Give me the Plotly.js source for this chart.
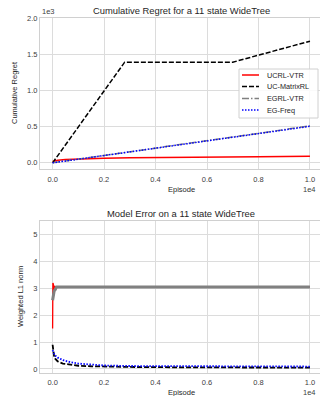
<!DOCTYPE html>
<html><head><meta charset="utf-8">
<script src="https://cdn.plot.ly/plotly-3.0.1.min.js"></script>
<style>html,body{margin:0;padding:0;background:#fff}#c{width:320px;height:396px}</style>
</head><body><div id="c"></div>
<script>
// ---- Data (episodes, values) ----
const seriesNames = ["UCRL-VTR", "UC-MatrixRL", "EGRL-VTR", "EG-Freq"];

// Cumulative regret
const regUcrlX = [0, 200, 500, 1000, 2000, 3000, 4000, 6000, 8000, 10000];
const regUcrlY = [20, 35, 45, 55, 65, 70, 75, 80, 85, 90];
const regUcX = [0, 2800, 7000, 10000];
const regUcY = [0, 1390, 1390, 1680];
const regEgrlX = [0, 2000, 4000, 6000, 8000, 10000];
const regEgrlY = [0, 100, 205, 305, 410, 510];
const regEgfX = [0, 2000, 4000, 6000, 8000, 10000];
const regEgfY = [0, 100, 200, 300, 405, 505];

// Model error
const errUcrlX = [0, 10, 20, 30, 40, 60, 80, 100, 150, 300, 1000, 3000, 6000, 10000];
const errUcrlY = [1.5, 3.2, 2.6, 3.15, 2.9, 3.1, 3.0, 3.05, 3.05, 3.05, 3.05, 3.05, 3.05, 3.05];
const errEgrlX = [0, 30, 60, 100, 150, 300, 1000, 3000, 6000, 10000];
const errEgrlY = [2.55, 2.7, 2.9, 2.95, 3.05, 3.05, 3.05, 3.05, 3.05, 3.05];
const errUcX = [0, 30, 60, 100, 200, 400, 700, 1000, 1500, 2000, 3000, 5000, 7000, 10000];
const errUcY = [0.9, 0.55, 0.45, 0.38, 0.28, 0.2, 0.15, 0.12, 0.1, 0.09, 0.075, 0.06, 0.055, 0.05];
const errEgfX = [0, 30, 60, 100, 200, 400, 700, 1000, 1500, 2000, 3000, 5000, 7000, 10000];
const errEgfY = [0.7, 0.6, 0.55, 0.5, 0.42, 0.33, 0.25, 0.2, 0.16, 0.13, 0.11, 0.1, 0.095, 0.09];

// Tick labels
const xTickVals = [0, 2000, 4000, 6000, 8000, 10000];
const xTickText = ["0.0", "0.2", "0.4", "0.6", "0.8", "1.0"];
const y1TickVals = [0, 500, 1000, 1500, 2000];
const y1TickText = ["0.0", "0.5", "1.0", "1.5", "2.0"];
const y2TickVals = [0, 1, 2, 3, 4, 5];
const y2TickText = ["0", "1", "2", "3", "4", "5"];

const colors = ["#ff0000", "#000000", "#808080", "#0000ff"];
const dashes = ["solid", "5px,2px", "7px,2px,1.5px,2px", "1.5px,1.5px"];

const FONT = "Liberation Sans, Arial, sans-serif";

const traces = [
  {x: regUcrlX, y: regUcrlY, name: seriesNames[0], xaxis: "x", yaxis: "y", line: {color: colors[0], dash: dashes[0], width: 1.5}},
  {x: regUcX, y: regUcY, name: seriesNames[1], xaxis: "x", yaxis: "y", line: {color: colors[1], dash: dashes[1], width: 1.5}},
  {x: regEgrlX, y: regEgrlY, name: seriesNames[2], xaxis: "x", yaxis: "y", line: {color: colors[2], dash: dashes[2], width: 1.5}},
  {x: regEgfX, y: regEgfY, name: seriesNames[3], xaxis: "x", yaxis: "y", line: {color: colors[3], dash: dashes[3], width: 1.5}},
  {x: errUcrlX, y: errUcrlY, xaxis: "x2", yaxis: "y2", line: {color: colors[0], dash: dashes[0], width: 1.3}},
  {x: errEgrlX, y: errEgrlY, xaxis: "x2", yaxis: "y2", line: {color: colors[2], dash: "solid", width: 3}},
  {x: errUcX, y: errUcY, xaxis: "x2", yaxis: "y2", line: {color: colors[1], dash: dashes[1], width: 1.8}},
  {x: errEgfX, y: errEgfY, xaxis: "x2", yaxis: "y2", line: {color: colors[3], dash: dashes[3], width: 1.8}}
];
traces.forEach(t => { t.type = "scatter"; t.mode = "lines"; t.hoverinfo = "skip"; t.showlegend = false; });

const tickFont = {family: FONT, size: 7.5, color: "#404040"};
const axisCommon = {
  showgrid: true, gridcolor: "#dcdcdc", gridwidth: 1,
  showline: true, linecolor: "#d0d0d0", linewidth: 1, mirror: true,
  zeroline: false, ticks: "", tickfont: tickFont
};
const titleFont = {family: FONT, size: 9.4, color: "#262626"};
const labFont = {family: FONT, size: 7.5, color: "#262626"};

const W = 320, H = 396;
const px = v => v / W, py = v => 1 - v / H;

// Manual legend (layout element, built from the series arrays)
const legendShapes = [{
  type: "rect", xref: "paper", yref: "paper",
  x0: px(239), x1: px(318), y0: py(118), y1: py(69),
  line: {color: "#d0d0d0", width: 1}, fillcolor: "rgba(255,255,255,0.85)", layer: "above"
}];
const legendAnn = [];
const legendRowY = [75, 86.5, 98.5, 110];
seriesNames.forEach((nm, i) => {
  legendShapes.push({
    type: "line", xref: "paper", yref: "paper",
    x0: px(242), x1: px(259), y0: py(legendRowY[i]), y1: py(legendRowY[i]),
    line: {color: colors[i], width: 1.5, dash: dashes[i]}, layer: "above"
  });
  legendAnn.push({
    text: nm, x: px(265), y: py(legendRowY[i]), xref: "paper", yref: "paper",
    showarrow: false, xanchor: "left", yanchor: "middle",
    font: {family: FONT, size: 7.3, color: "#262626"}
  });
});

const layout = {
  width: W, height: H,
  margin: {l: 0, r: 0, t: 0, b: 0},
  paper_bgcolor: "#fff", plot_bgcolor: "#fff",
  font: {family: FONT, color: "#262626"},
  showlegend: false,
  xaxis: Object.assign({}, axisCommon, {domain: [px(40), 1], range: [-490, 10390], tickvals: xTickVals, ticktext: xTickText, anchor: "y", ticklabelstandoff: 3}),
  yaxis: Object.assign({}, axisCommon, {domain: [py(169), py(18)], range: [-85, 2000], tickvals: y1TickVals, ticktext: y1TickText, anchor: "x"}),
  xaxis2: Object.assign({}, axisCommon, {domain: [px(40), 1], range: [-490, 10390], tickvals: xTickVals, ticktext: xTickText, anchor: "y2", ticklabelstandoff: 2}),
  yaxis2: Object.assign({}, axisCommon, {domain: [py(373), py(221)], range: [-0.15, 5.5], tickvals: y2TickVals, ticktext: y2TickText, anchor: "x2"}),
  shapes: legendShapes,
  annotations: [
    {text: "Cumulative Regret for a 11 state WideTree", x: px(181), y: py(10), xref: "paper", yref: "paper", showarrow: false, font: titleFont, xanchor: "center", yanchor: "middle"},
    {text: "Model Error on a 11 state WideTree", x: px(181), y: py(213), xref: "paper", yref: "paper", showarrow: false, font: titleFont, xanchor: "center", yanchor: "middle"},
    {text: "Episode", x: px(181), y: py(189.5), xref: "paper", yref: "paper", showarrow: false, font: labFont, xanchor: "center", yanchor: "middle"},
    {text: "Episode", x: px(181), y: py(392.5), xref: "paper", yref: "paper", showarrow: false, font: labFont, xanchor: "center", yanchor: "middle"},
    {text: "Cumulative Regret", x: px(14), y: py(93), xref: "paper", yref: "paper", showarrow: false, font: labFont, textangle: -90, xanchor: "center", yanchor: "middle"},
    {text: "Weighted L1 norm", x: px(20), y: py(297), xref: "paper", yref: "paper", showarrow: false, font: labFont, textangle: -90, xanchor: "center", yanchor: "middle"},
    {text: "1e3", x: px(40), y: py(12), xref: "paper", yref: "paper", showarrow: false, font: tickFont, xanchor: "left", yanchor: "middle"},
    {text: "1e4", x: px(318), y: py(189), xref: "paper", yref: "paper", showarrow: false, font: tickFont, xanchor: "right", yanchor: "middle"},
    {text: "1e4", x: px(318), y: py(392), xref: "paper", yref: "paper", showarrow: false, font: tickFont, xanchor: "right", yanchor: "middle"}
  ].concat(legendAnn)
};

Plotly.newPlot("c", traces, layout, {staticPlot: true, displayModeBar: false});
</script>
</body></html>
